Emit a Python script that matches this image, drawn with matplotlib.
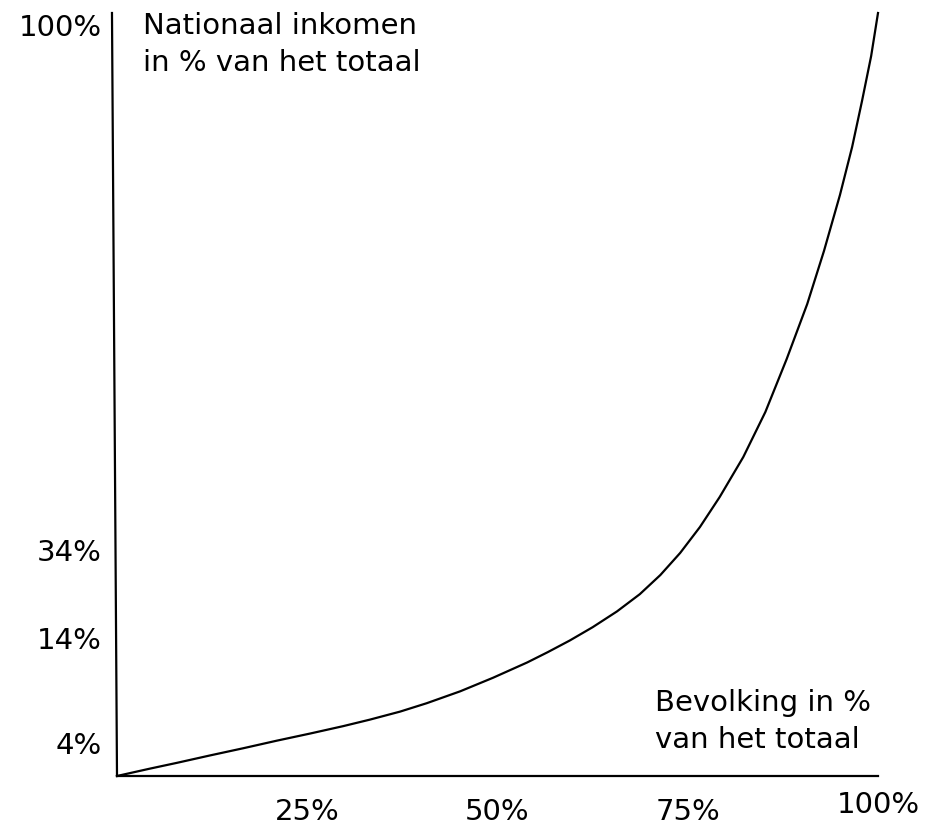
import matplotlib
matplotlib.use("Agg")
import matplotlib.pyplot as plt

# Lorenz-achtige curve: bevolking (%) tegen nationaal inkomen (%)
bevolking = [0, 4.3, 7.9, 12.2, 16.6, 21.0, 25.4, 29.7, 33.2, 37.2, 40.7,
             45.1, 49.4, 53.9, 56.6, 59.5, 62.5, 65.7, 68.7, 71.4, 74.0,
             76.6, 79.2, 82.3, 85.2, 88.0, 90.7, 92.9, 95.0, 96.6, 97.9,
             99.1, 100]
inkomen = [0, 0.96, 1.73, 2.69, 3.64, 4.63, 5.57, 6.53, 7.38, 8.44, 9.54,
           11.1, 12.87, 14.88, 16.23, 17.76, 19.5, 21.57, 23.83, 26.34, 29.23,
           32.63, 36.57, 41.81, 47.71, 54.65, 61.86, 68.81, 76.15, 82.44, 88.47,
           94.36, 100]

x_ticks = [25, 50, 75, 100]
x_labels = ["25%", "50%", "75%", "100%"]
y_ticks = [4.3, 18.1, 29.6, 98.4]
y_labels = ["4%", "14%", "34%", "100%"]

y_title = "Nationaal inkomen\nin % van het totaal"
x_title = "Bevolking in %\nvan het totaal"

plt.rcParams['font.family'] = ['DejaVu Sans']
FS = 21

fig = plt.figure(figsize=(9.27, 8.34), dpi=100)
ax = fig.add_axes([117 / 927, 1 - 776 / 834, 761 / 927, 763 / 834])

ax.plot(bevolking, inkomen, color="black", linewidth=1.6,
        solid_joinstyle="round", clip_on=False)

ax.set_xlim(0, 100)
ax.set_ylim(0, 100)

# only the bottom axis as a spine; left axis drawn slightly slanted
for side in ["top", "right", "left"]:
    ax.spines[side].set_visible(False)
ax.spines["bottom"].set_linewidth(1.6)
ax.plot([0, -0.0066], [0, 1], transform=ax.transAxes, color="black",
        linewidth=1.6, clip_on=False)

ax.set_xticks([])
ax.set_yticks(y_ticks)
ax.set_yticklabels(y_labels, fontsize=FS)
ax.tick_params(axis="y", length=0, pad=11)

# x labels below the axis (the 100% sits a little higher)
for xv, lab in zip(x_ticks, x_labels):
    dy = -21 if xv == 100 else -26
    ax.annotate(lab, xy=(xv, 0), xytext=(0, dy), textcoords="offset points",
                ha="center", va="center", fontsize=FS,
                annotation_clip=False)

ax.text(143 / 927, 1 - 12 / 834, y_title, transform=fig.transFigure,
        ha="left", va="top", fontsize=FS, linespacing=1.43)
ax.text(655 / 927, 1 - 689 / 834, x_title, transform=fig.transFigure,
        ha="left", va="top", fontsize=FS, linespacing=1.43)

fig.savefig("out.png", dpi=100)
